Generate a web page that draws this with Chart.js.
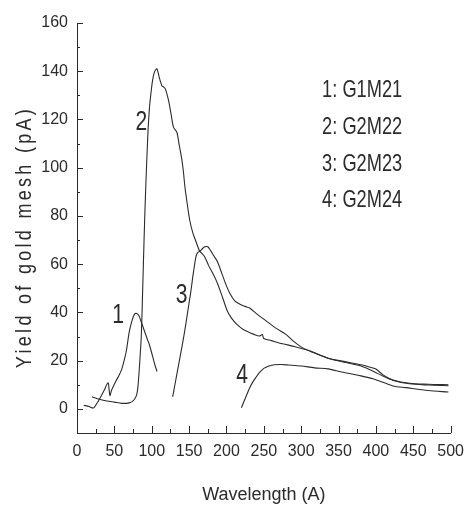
<!DOCTYPE html>
<html>
<head>
<meta charset="utf-8">
<script src="https://cdn.jsdelivr.net/npm/chart.js@4.4.0/dist/chart.umd.min.js"></script>
<style>
  html, body { margin: 0; padding: 0; background: #fff; }
</style>
</head>
<body>
<canvas id="myChart" width="473" height="507"></canvas>
<script>
// wavelength (A) / yield (pA)
const g1m21X = [9, 16, 22, 26, 30, 36, 41.5, 43, 44, 46, 48, 52, 56, 60, 63, 66, 70, 74, 77, 80, 83, 86, 90, 94, 97, 101, 104, 107];
const g1m21Y = [1.5, 1.0, 0.4, 2, 4, 7.5, 10.8, 8, 5.5, 7.5, 9, 11.5, 13.7, 16.6, 20, 24, 32, 37, 39.3, 39.5, 38.5, 36, 32.5, 29, 26.5, 22, 18.5, 15.5];

const g2m22X = [20, 25, 30, 40, 50, 60, 70, 75, 78, 80, 81.5, 83, 84.5, 86, 87.5, 89, 90.5, 92, 93.5, 95, 97, 99, 101, 103, 105, 107, 110, 113.6, 116, 118.4, 122.7, 126, 129.2, 133.6, 137, 140, 142.5, 144.5, 148, 151, 155, 159, 162, 164, 167, 171, 176, 182, 188, 195, 201, 207, 214, 222, 230, 236, 244, 248, 250, 260, 275, 292, 310, 336, 360, 380, 397, 410, 423, 445, 470, 497];
const g2m22Y = [5, 4.5, 4, 3.3, 2.8, 2.3, 2.5, 3.3, 4.5, 6, 9, 15, 22, 30, 45, 62, 78, 92, 104, 115, 125, 131, 136, 139, 140.5, 141, 137.5, 134, 133.5, 132.6, 127.6, 122, 116.7, 114.7, 109, 104, 98, 91.8, 84, 78, 73, 69.5, 67, 65.5, 64.5, 63, 59.5, 56, 52, 46, 40.7, 37.5, 35, 33, 31.8, 31, 30.2, 30.8, 29.2, 28.3, 27, 25.8, 24.2, 21, 19.2, 17.8, 15.5, 13.5, 11.8, 10.4, 9.9, 9.6];

const g2m23X = [128, 131, 134, 137, 140, 144, 148, 152, 156, 159.5, 162, 165, 168, 171, 175, 179, 183, 188, 194, 200, 205, 211, 218, 225, 231, 240, 253, 266, 279, 290, 301, 315, 336, 360, 380, 390, 400, 410, 423, 445, 470, 497];
const g2m23Y = [5, 10, 15, 20, 25, 32, 40, 48, 57, 63.5, 65, 65.5, 66.5, 67.2, 67.2, 65.5, 63.5, 61, 56, 51, 47.6, 44.8, 43.4, 42.5, 41.8, 39.5, 36.5, 33.5, 31, 28, 25.5, 23.5, 21, 19.5, 18.3, 17.5, 16.5, 14, 12, 10.6, 10.2, 10];

const g2m24X = [220, 224, 228, 231, 235, 240, 244, 250, 257, 264, 273, 283, 300, 318, 336, 354, 380, 397, 423, 440, 470, 497];
const g2m24Y = [0.5, 3.5, 6.5, 8.7, 11, 13.3, 15, 16.8, 17.8, 18.3, 18.4, 18.2, 17.8, 17, 16.6, 15.3, 13.7, 12.4, 9.5, 8.8, 7.6, 7];

const legendLines = ['1: G1M21', '2: G2M22', '3: G2M23', '4: G2M24'];
const curveTags = ['1', '2', '3', '4'];
const tagX = [55, 86, 140, 221];
const tagY = [38.6, 118.7, 47, 13.7];

const ink = '#2b2b2b';
const face = "'Liberation Sans', Arial, sans-serif";

const toPoints = (xs, ys) => xs.map((x, i) => ({ x: x, y: ys[i] }));

// squeeze text sideways, the scan uses a narrow face
function narrowText(ctx, s, x, y, squeeze) {
  ctx.save();
  ctx.translate(x, y);
  ctx.scale(squeeze, 1);
  ctx.fillText(s, 0, 0);
  ctx.restore();
}

const inwardTicks = {
  id: 'inwardTicks',
  afterDraw(chart) {
    const { ctx, chartArea: a } = chart;
    const x = chart.scales.x, y = chart.scales.y;
    ctx.save();
    ctx.strokeStyle = ink;
    ctx.lineWidth = 1;
    ctx.beginPath();
    x.ticks.forEach(t => {
      const px = Math.round(x.getPixelForValue(t.value)) + 0.5;
      const len = t.value % 50 === 0 ? 7 : 4;
      ctx.moveTo(px, a.bottom);
      ctx.lineTo(px, a.bottom - len);
    });
    y.ticks.forEach(t => {
      const py = Math.round(y.getPixelForValue(t.value)) + 0.5;
      const len = t.value % 20 === 0 ? 6 : 3;
      ctx.moveTo(a.left, py);
      ctx.lineTo(a.left + len, py);
    });
    ctx.stroke();

    // curve numbers
    ctx.fillStyle = ink;
    ctx.font = '27px ' + face;
    ctx.textAlign = 'center';
    ctx.textBaseline = 'middle';
    curveTags.forEach((s, i) => {
      narrowText(ctx, s, x.getPixelForValue(tagX[i]), y.getPixelForValue(tagY[i]), 0.78);
    });

    // key text
    ctx.font = '24px ' + face;
    ctx.textAlign = 'left';
    legendLines.forEach((s, i) => {
      narrowText(ctx, s, x.getPixelForValue(328), y.getPixelForValue(132) + i * 36.7, 0.76);
    });

    // spaced out y title
    ctx.font = '22px ' + face;
    ctx.letterSpacing = '4px';
    ctx.translate(25, (a.top + a.bottom) / 2 + 9);
    ctx.rotate(-Math.PI / 2);
    ctx.textAlign = 'center';
    narrowText(ctx, 'Yield of gold mesh (pA)', 0, 0, 0.82);
    ctx.restore();
  }
};

const lineStyle = {
  borderColor: ink,
  borderWidth: 1.1,
  pointRadius: 0,
  fill: false,
  tension: 0.3
};

const chart = new Chart(document.getElementById('myChart'), {
  type: 'line',
  data: {
    datasets: [
      { label: 'G1M21', data: toPoints(g1m21X, g1m21Y), ...lineStyle },
      { label: 'G2M22', data: toPoints(g2m22X, g2m22Y), ...lineStyle },
      { label: 'G2M23', data: toPoints(g2m23X, g2m23Y), ...lineStyle },
      { label: 'G2M24', data: toPoints(g2m24X, g2m24Y), ...lineStyle }
    ]
  },
  options: {
    responsive: false,
    animation: false,
    layout: { padding: { top: 23, right: 14, bottom: 0, left: 0 } },
    plugins: { legend: { display: false }, tooltip: { enabled: false } },
    scales: {
      x: {
        type: 'linear',
        min: 0,
        max: 500,
        grid: { display: false, drawTicks: false },
        border: { display: true, color: ink, width: 1 },
        ticks: {
          stepSize: 25,
          autoSkip: false,
          maxRotation: 0,
          padding: 9,
          color: ink,
          font: { family: face, size: 16 },
          callback: v => (v % 50 === 0 ? v : '')
        },
        title: {
          display: true,
          text: 'Wavelength (A)',
          color: ink,
          font: { family: face, size: 18 },
          padding: { top: 0, bottom: 1 }
        },
        afterFit: s => { s.height = 74; }
      },
      y: {
        min: -10,
        max: 160,
        grid: { display: false, drawTicks: false },
        border: { display: true, color: ink, width: 1 },
        ticks: {
          stepSize: 10,
          autoSkip: false,
          padding: 9,
          color: ink,
          font: { family: face, size: 16 },
          callback: v => (v % 20 === 0 && v >= 0 ? v : '')
        },
        afterFit: s => { s.width = 77; }
      }
    }
  },
  plugins: [inwardTicks]
});
</script>
</body>
</html>
